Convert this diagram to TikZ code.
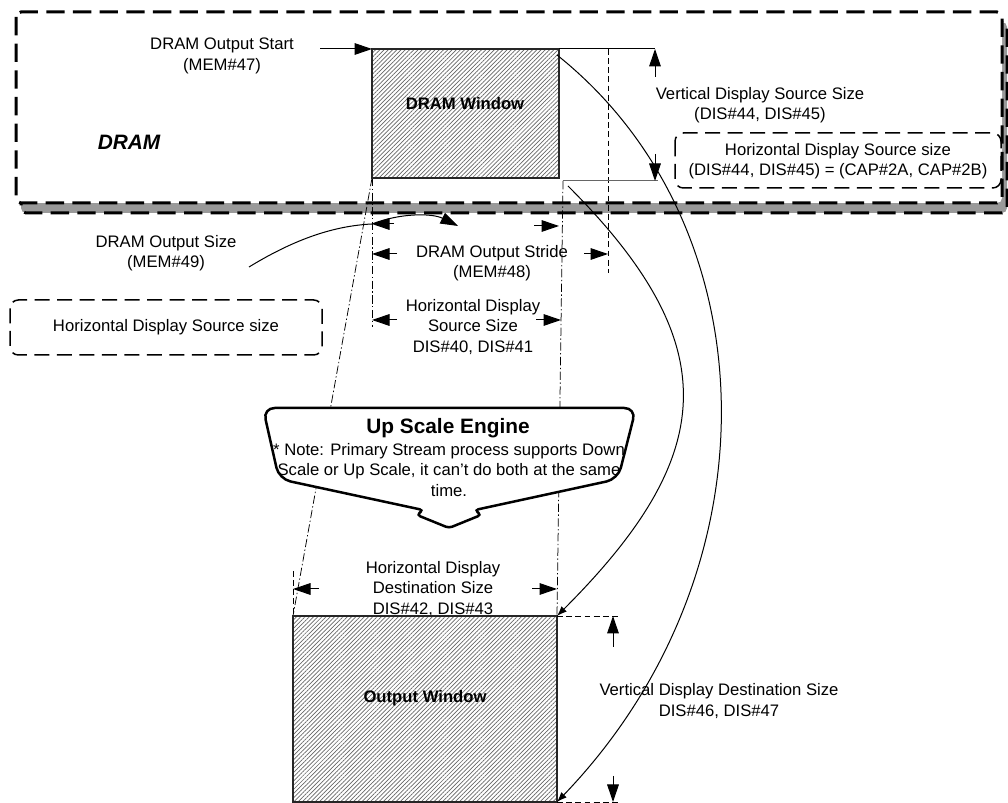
\documentclass[tikz,border=0pt]{standalone}
\usepackage{fontspec}
\setmainfont{Liberation Sans}
\usetikzlibrary{arrows.meta,patterns.meta}

\tikzstyle{lbl} = [draw=none, fill=none, text centered, align=center, inner sep=0pt, font=\fontsize{10}{12.2}\selectfont]
\tikzstyle{boldlbl} = [lbl, font=\bfseries\fontsize{10}{12}\selectfont]
\tikzstyle{win} = [draw=black!85, line width=0.7pt, pattern={Lines[angle=45,distance=1.8pt,line width=0.42pt]}, pattern color=black!60]
\tikzstyle{frame} = [line width=1.8pt, dash pattern=on 11pt off 5pt, rounded corners=3pt]
\tikzstyle{note} = [line width=0.9pt, dash pattern=on 9pt off 4.5pt, rounded corners=5pt]
\tikzstyle{dim} = [line width=0.6pt, -{Triangle[length=10.5pt,width=7pt]}]
\tikzstyle{proj} = [line width=0.45pt, dash pattern=on 5pt off 1.5pt on 0.8pt off 1.5pt]
\tikzstyle{ext} = [line width=0.55pt, dash pattern=on 3.5pt off 2pt]
\tikzstyle{swing} = [line width=0.6pt, -{Latex[length=6pt,width=4.5pt]}]
\tikzstyle{plain} = [line width=0.6pt]

\begin{document}
\begin{tikzpicture}[x=0.6pt, y=-0.6pt]
    \useasboundingbox (0,0) rectangle (1008,803);

    \coordinate (ftl) at (16,12);
    \coordinate (fbr) at (1002,203);
    \draw[frame, fill=gray!80] ([shift={(5,10)}]ftl) rectangle ([shift={(5,10)}]fbr);
    \draw[frame, fill=white] (ftl) rectangle (fbr);
    \node[lbl, font=\bfseries\itshape\fontsize{12.5}{14}\selectfont] (dram) at (129,142) {DRAM};

    \draw[note] (675,133) rectangle (1001,188);
    \node[lbl] (capsize) at (838,161) {Horizontal Display Source size\\(DIS\#44, DIS\#45) = (CAP\#2A, CAP\#2B)};

    \coordinate (wtl) at (372,49);
    \coordinate (wtr) at (559,49);
    \coordinate (wbl) at (372,178);
    \coordinate (wbr) at (559,178);
    \coordinate (cut) at (563,181);
    \coordinate (otl) at (293,616);
    \coordinate (otr) at (557,616);
    \coordinate (obl) at (293,802);
    \coordinate (obr) at (557,802);

    \draw[proj] (wbl) -- (otl);
    \draw[proj] (cut) -- (otr);
    \coordinate (srcext) at (372,327);
    \draw[proj] (wbl) -- (srcext);
    \coordinate (stridetop) at (608,49);
    \coordinate (stridebot) at (608,273);
    \draw[ext] (stridetop) -- (stridebot);
    \coordinate (dstext) at (293,571);
    \draw[ext] (dstext) -- (otl);

    \draw[win] (wtl) rectangle (wbr);
    \node[boldlbl] (dramwin) at (465,104) {DRAM Window};

    \node[lbl] (start) at (222,56) {DRAM Output Start\\(MEM\#47)};
    \coordinate (starttail) at (320,49);
    \draw[dim] (starttail) -- (wtl);

    \coordinate (vsrct) at (655,49);
    \coordinate (vsrcb) at (658,181);
    \coordinate (vupt) at (655,77);
    \coordinate (vdnt) at (655,154);
    \coordinate (vdnh) at (655,181);
    \draw[plain] (wtr) -- (vsrct);
    \draw[plain, black!60] (cut) -- (vsrcb);
    \draw[dim] (vupt) -- (vsrct);
    \draw[dim] (vdnt) -- (vdnh);
    \node[lbl] (vsrc) at (760,105) {Vertical Display Source Size\\(DIS\#44, DIS\#45)};

    \coordinate (sizel) at (372,224);
    \coordinate (sizestub) at (394,224);
    \coordinate (sizemid) at (458,226);
    \coordinate (sizertail) at (534,226);
    \coordinate (sizer) at (559,226);
    \coordinate (sizeend) at (249,267);
    \draw[dim] (sizestub) -- (sizel);
    \draw[dim] (sizel) .. controls (400,213) and (432,213) .. (sizemid);
    \draw[dim] (sizertail) -- (sizer);
    \draw[plain] (sizeend) .. controls (290,242) and (330,226) .. (sizel);
    \node[lbl] (osize) at (166,253) {DRAM Output Size\\(MEM\#49)};

    \coordinate (stridel) at (372,254);
    \coordinate (stridelt) at (397,254);
    \coordinate (striderel) at (584,254);
    \coordinate (strider) at (608,254);
    \draw[dim] (stridelt) -- (stridel);
    \draw[dim] (striderel) -- (strider);
    \node[lbl] (stride) at (492,263) {DRAM Output Stride\\(MEM\#48)};

    \coordinate (hsrcl) at (372,320);
    \coordinate (hsrclt) at (397,320);
    \coordinate (hsrcrt) at (536,320);
    \coordinate (hsrcr) at (561,320);
    \draw[dim] (hsrclt) -- (hsrcl);
    \draw[dim] (hsrcrt) -- (hsrcr);
    \node[lbl] (hsrc) at (473,327) {Horizontal Display\\Source Size\\DIS\#40, DIS\#41};

    \draw[note] (10,300) rectangle (322,355);
    \node[lbl] (hsrcbox) at (166,327) {Horizontal Display Source size};

    \draw[line width=1.5pt, fill=white, rounded corners=7pt]
        (449,408) -- (636,408) -- (618,479)
        [rounded corners=2pt] -- (475,510) -- (481,515) -- (449,528) -- (417,515) -- (423,510)
        [rounded corners=7pt] -- (279,479) -- (263,408) -- cycle;
    \node[lbl, font=\bfseries\fontsize{12.5}{14}\selectfont] (engine) at (448,428) {Up Scale Engine};
    \node[lbl] (enginenote) at (449,470) {* Note: Primary Stream process supports Down\\Scale or Up Scale, it can’t do both at the same\\time.};

    \coordinate (hdstl) at (293,589);
    \coordinate (hdstlt) at (319,589);
    \coordinate (hdstrt) at (532,589);
    \coordinate (hdstr) at (557,589);
    \draw[dim] (hdstlt) -- (hdstl);
    \draw[dim] (hdstrt) -- (hdstr);
    \node[lbl] (hdst) at (433,589) {Horizontal Display\\Destination Size\\DIS\#42, DIS\#43};

    \draw[win] (otl) rectangle (obr);
    \node[boldlbl] (outwin) at (425,698) {Output Window};

    \coordinate (vdt) at (618,616);
    \coordinate (vdb) at (618,802);
    \coordinate (vdupt) at (613,647);
    \coordinate (vduph) at (613,616);
    \coordinate (vddnt) at (613,776);
    \coordinate (vddnh) at (613,802);
    \draw[ext] (otr) -- (vdt);
    \draw[ext] (obr) -- (vdb);
    \draw[dim] (vdupt) -- (vduph);
    \draw[dim] (vddnt) -- (vddnh);
    \node[lbl] (vdst) at (719,701) {Vertical Display Destination Size\\DIS\#46, DIS\#47};

    \coordinate (arcs) at (557,55);
    \coordinate (arct) at (568,186);
    \draw[swing] (arcs) .. controls (770,225) and (780,570) .. (obr);
    \draw[swing] (arct) .. controls (728,346) and (717,456) .. (otr);
\end{tikzpicture}
\end{document}
